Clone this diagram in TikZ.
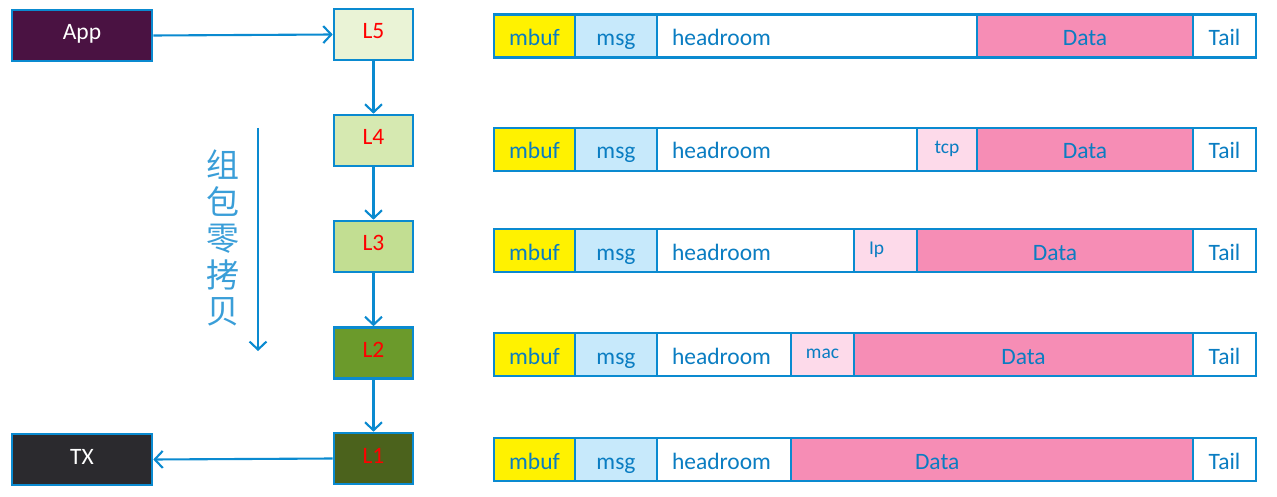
\documentclass[tikz,border=0pt]{standalone}
\usepackage{fontspec}
\setmainfont{Carlito}
\newfontfamily\cjk{Noto Sans CJK SC}
\usetikzlibrary{arrows.meta, positioning}
\definecolor{lineblue}{HTML}{0A8AD0}
\definecolor{textblue}{HTML}{0A7DC2}
\definecolor{hanblue}{HTML}{3A9ED8}
\definecolor{appfill}{HTML}{4A1242}
\definecolor{txfill}{HTML}{2B2A2E}
\definecolor{lfive}{HTML}{EAF3D6}
\definecolor{lfour}{HTML}{D6E9B1}
\definecolor{lthree}{HTML}{C2DE92}
\definecolor{ltwo}{HTML}{6B9A2B}
\definecolor{lone}{HTML}{4B621C}
\definecolor{msgfill}{HTML}{C7E9FB}
\definecolor{datafill}{HTML}{F68DB5}
\definecolor{hdrfill}{HTML}{FDDAEA}
\tikzset{
	endpoint/.style={rectangle,
		draw=lineblue,
		line width=2.6pt,
		minimum width=140,
		minimum height=51,
		text=white,
		text height=14pt,
		text depth=5pt,
		font=\fontsize{23.5}{26}\selectfont,
		},
	layer/.style={rectangle,
		draw=lineblue,
		line width=2.6pt,
		minimum width=79,
		minimum height=51,
		text=red,
		text height=14pt,
		text depth=5pt,
		font=\fontsize{23.5}{26}\selectfont,
		},
	cell/.style={rectangle,
		draw=lineblue,
		line width=2.6pt,
		minimum height=43,
		outer sep=0pt,
		anchor=west,
		text=textblue,
		text height=22pt,
		text depth=3pt,
		font=\fontsize{23.5}{26}\selectfont,
		},
	mbuf/.style={cell, fill=yellow, minimum width=81},
	msg/.style={cell, fill=msgfill, minimum width=82},
	room/.style={cell, fill=white, align=left, inner xsep=15},
	hdr/.style={cell, fill=hdrfill, text height=13pt, text depth=5pt,
		font=\fontsize{19.5}{22}\selectfont},
	data/.style={cell, fill=datafill},
	tail/.style={cell, fill=white, minimum width=63},
	flow/.style={draw=lineblue, line width=2.1pt,
		-{Straight Barb[length=8pt, width=17pt, line width=2.1pt]}},
}
\begin{document}
\begin{tikzpicture}[x=1pt, y=-1pt]
   \useasboundingbox (0,0) rectangle (1277,497);

   \node[endpoint, fill=appfill] (app) at (82,35.5) {App};
   \node[endpoint, fill=txfill] (tx) at (82,459.5) {TX};

   \node[layer, fill=lfive] (L5) at (373.5,34.5) {L5};
   \node[layer, fill=lfour] (L4) at (373.5,140.5) {L4};
   \node[layer, fill=lthree] (L3) at (373.5,246.5) {L3};
   \node[layer, fill=ltwo] (L2) at (373.5,353) {L2};
   \node[layer, fill=lone] (L1) at (373.5,458.5) {L1};

   \draw[flow] (app.east) -- (L5.west);
   \draw[flow] (L5) -- (L4);
   \draw[flow] (L4) -- (L3);
   \draw[flow] (L3) -- (L2);
   \draw[flow] (L2) -- (L1);
   \draw[flow] (L1.west) -- (tx.east);

   % zero-copy packing
   \node[text=hanblue, font=\cjk\fontsize{33}{36.5}\selectfont, align=center]
   	(pack) at (223,238) {组\\包\\零\\拷\\贝};
   \coordinate (packtop) at (258,128);
   \coordinate (packend) at (258,351);
   \draw[flow] (packtop) -- (packend);

   % L5 buffer
   \node[mbuf] (buf5) at (494,36) {mbuf};
   \node[msg, right=0pt of buf5] (msg5) {msg};
   \node[room, minimum width=320, text width=290, right=0pt of msg5] (room5) {headroom};
   \node[data, minimum width=216, right=0pt of room5] (data5) {Data};
   \node[tail, right=0pt of data5] (tail5) {Tail};

   % L4 buffer
   \node[mbuf] (buf4) at (494,149.5) {mbuf};
   \node[msg, right=0pt of buf4] (msg4) {msg};
   \node[room, minimum width=260, text width=230, right=0pt of msg4] (room4) {headroom};
   \node[hdr, minimum width=60, right=0pt of room4] (tcp4) {tcp};
   \node[data, minimum width=216, right=0pt of tcp4] (data4) {Data};
   \node[tail, right=0pt of data4] (tail4) {Tail};

   % L3 buffer
   \node[mbuf] (buf3) at (494,250.5) {mbuf};
   \node[msg, right=0pt of buf3] (msg3) {msg};
   \node[room, minimum width=197, text width=167, right=0pt of msg3] (room3) {headroom};
   \node[hdr, minimum width=63, align=left, inner xsep=15, text width=33, right=0pt of room3] (ip3) {Ip};
   \node[data, minimum width=276, right=0pt of ip3] (data3) {Data};
   \node[tail, right=0pt of data3] (tail3) {Tail};

   % L2 buffer
   \node[mbuf] (buf2) at (494,354.5) {mbuf};
   \node[msg, right=0pt of buf2] (msg2) {msg};
   \node[room, minimum width=134, text width=104, right=0pt of msg2] (room2) {headroom};
   \node[hdr, minimum width=63, right=0pt of room2] (mac2) {mac};
   \node[data, minimum width=339, right=0pt of mac2] (data2) {Data};
   \node[tail, right=0pt of data2] (tail2) {Tail};

   % L1 buffer
   \node[mbuf] (buf1) at (494,459.5) {mbuf};
   \node[msg, right=0pt of buf1] (msg1) {msg};
   \node[room, minimum width=134, text width=104, right=0pt of msg1] (room1) {headroom};
   \node[data, minimum width=402, align=left, inner xsep=124, text width=154, right=0pt of room1] (data1) {Data};
   \node[tail, right=0pt of data1] (tail1) {Tail};
\end{tikzpicture}
\end{document}
